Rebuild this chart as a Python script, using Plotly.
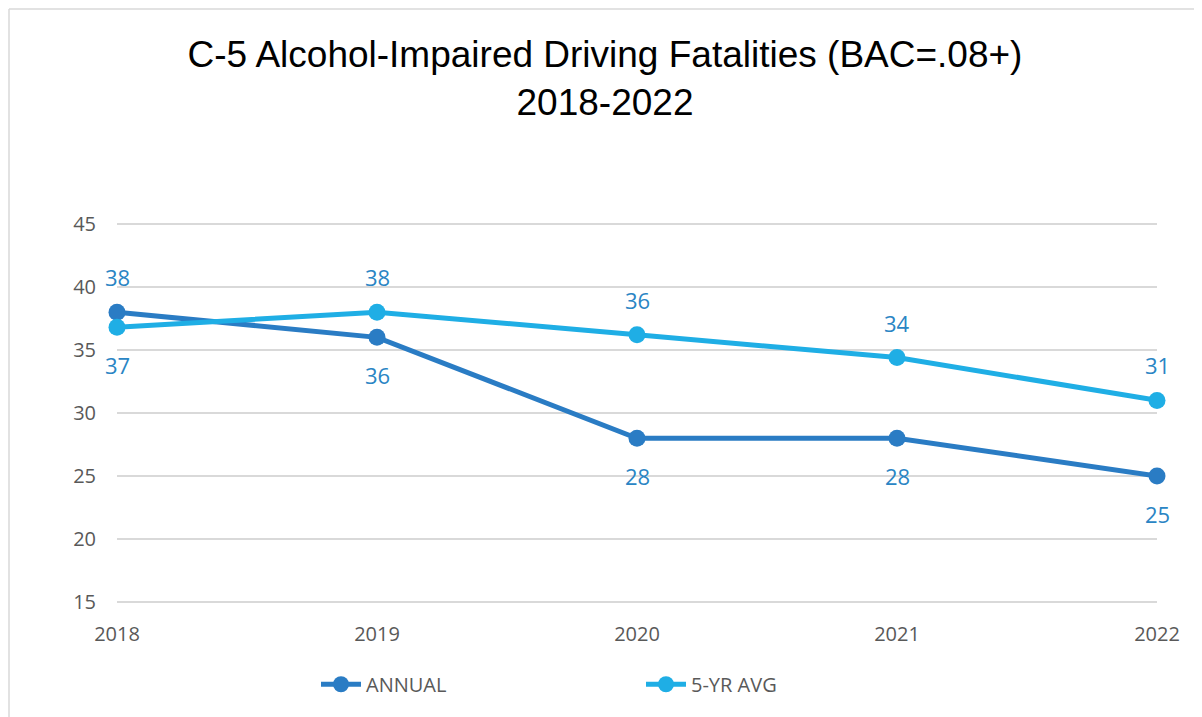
import plotly.graph_objects as go

#%% data
years = [2018, 2019, 2020, 2021, 2022]
annual = [38, 36, 28, 28, 25]
avg_5yr = [36.8, 38.0, 36.2, 34.4, 31.0]

# label above (+1) or below (-1) each point
annual_side = [1, -1, -1, -1, -1]
avg_side = [-1, 1, 1, 1, 1]

label_font = dict(family='Open Sans', size=22, color='#2A85C4')
axis_font = dict(family='Open Sans', size=20, color='#595959')

# the page body adds an 8px margin, so the figure is made 8px smaller
W, H = 1194, 709
L, R, T, B = 109, 45, 214, 113
PW, PH = W - L - R, H - T - B

fig = go.Figure()
fig.add_trace(go.Scatter(
    x=years, y=annual, name='ANNUAL', mode='lines+markers',
    line=dict(color='#2A7CC4', width=5),
    marker=dict(size=17, color='#2A7CC4'), cliponaxis=False,
))
fig.add_trace(go.Scatter(
    x=years, y=avg_5yr, name='5-YR AVG', mode='lines+markers',
    line=dict(color='#1FAEE5', width=5),
    marker=dict(size=17, color='#1FAEE5'), cliponaxis=False,
))

# data labels
for vals, sides in [(annual, annual_side), (avg_5yr, avg_side)]:
    for x, v, s in zip(years, vals, sides):
        fig.add_annotation(
            x=x, y=v, text=f'{v:.0f}', showarrow=False,
            yshift=35 if s > 0 else -38, font=label_font,
        )

fig.update_layout(
    width=W, height=H,
    paper_bgcolor='white', plot_bgcolor='white',
    margin=dict(l=L, r=R, t=T, b=B),
    title=dict(
        text='C-5 Alcohol-Impaired Driving Fatalities (BAC=.08+)<br>2018-2022',
        x=0.5, xanchor='center', y=0.917, yanchor='top',
        font=dict(family='Liberation Sans', size=37, color='black'),
    ),
    xaxis=dict(
        range=[2018, 2022], tickvals=years, showgrid=False, zeroline=False,
        showline=False, ticks='', ticklabelstandoff=16, tickfont=axis_font,
    ),
    yaxis=dict(
        range=[14.85, 45.15], tickvals=[15, 20, 25, 30, 35, 40, 45],
        showgrid=True, gridcolor='#D9D9D9', gridwidth=2,
        zeroline=False, showline=False, ticks='', ticklabelstandoff=20,
        tickfont=axis_font,
    ),
    legend=dict(
        orientation='h', x=(316 - 8 - L) / PW, xanchor='left', y=-0.21, yanchor='middle',
        font=axis_font, entrywidth=270, itemwidth=40,
    ),
    showlegend=True,
    # light frame around the chart (left and top edges visible)
    shapes=[
        dict(type='line', xref='paper', yref='paper',
             x0=(1 - L) / PW, x1=(1 - L) / PW, y0=(H - B - H) / PH, y1=(H - B - 1) / PH,
             line=dict(color='#D9D9D9', width=1.5)),
        dict(type='line', xref='paper', yref='paper',
             x0=(1 - L) / PW, x1=(W - L) / PW, y0=(H - B - 1) / PH, y1=(H - B - 1) / PH,
             line=dict(color='#D9D9D9', width=1.5)),
    ],
)

fig.write_html("out.html")
